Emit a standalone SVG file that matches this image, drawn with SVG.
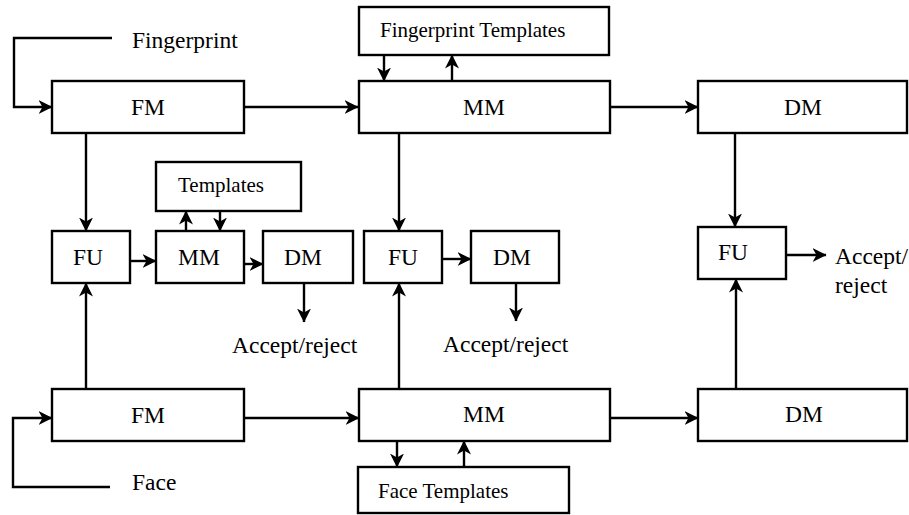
<svg xmlns="http://www.w3.org/2000/svg" width="909" height="515" viewBox="0 0 909 515">
<style>
.box{fill:#fff;stroke:#000;stroke-width:2.4}
.t{font-family:"Liberation Serif","Times New Roman",serif;font-size:23.5px;fill:#000}
.tc{text-anchor:middle}
.s{font-family:"Liberation Serif","Times New Roman",serif;font-size:21px;fill:#000}
.c{fill:none;stroke:#000;stroke-width:2.4}
.a{marker-end:url(#ah)}
</style>
<defs>
<marker id="ah" viewBox="0 0 14 14" refX="13.5" refY="7" markerWidth="14" markerHeight="14" markerUnits="userSpaceOnUse" orient="auto">
<path d="M0,0 L14,7 L0,14 L4,7 Z" fill="#000"/>
</marker>
</defs>
<rect width="909" height="515" fill="#fff"/>
<g id="connectors">
<path class="c a" d="M112,38 H14 V107 H52"/>
<path class="c a" d="M244,107 H358"/>
<path class="c a" d="M384,55 V81"/>
<path class="c a" d="M452,81 V55"/>
<path class="c a" d="M610,107 H698"/>
<path class="c a" d="M86,133 V231"/>
<path class="c a" d="M399,133 V231"/>
<path class="c a" d="M735,133 V227"/>
<path class="c a" d="M130,261 H156"/>
<path class="c a" d="M244,264 H263"/>
<path class="c a" d="M186,231 V211"/>
<path class="c a" d="M220,211 V231"/>
<path class="c a" d="M304,283 V322"/>
<path class="c a" d="M442,259 H471"/>
<path class="c a" d="M516,283 V321"/>
<path class="c a" d="M786,255 H826"/>
<path class="c a" d="M86,389 V283"/>
<path class="c a" d="M399,389 V283"/>
<path class="c a" d="M736,389 V279"/>
<path class="c a" d="M110,487 H13 V418 H52"/>
<path class="c a" d="M244,418 H359"/>
<path class="c a" d="M397,441 V467"/>
<path class="c a" d="M464,467 V441"/>
<path class="c a" d="M610,418 H698"/>
</g>
<g id="fm-top"><rect class="box" x="52" y="81" width="192" height="52"/><text class="t tc" x="148" y="115">FM</text></g>
<g id="fp-templates"><rect class="box" x="359" y="7" width="250" height="48"/><text class="s" x="380" y="37">Fingerprint Templates</text></g>
<g id="mm-top"><rect class="box" x="359" y="81" width="251" height="52"/><text class="t tc" x="484" y="115">MM</text></g>
<g id="dm-top"><rect class="box" x="698" y="81" width="209" height="52"/><text class="t tc" x="803" y="115">DM</text></g>
<g id="fu-left"><rect class="box" x="52" y="231" width="78" height="52"/><text class="t tc" x="88" y="265">FU</text></g>
<g id="templates"><rect class="box" x="156" y="162" width="145" height="49"/><text class="s" x="178" y="192">Templates</text></g>
<g id="mm-mid"><rect class="box" x="156" y="231" width="88" height="52"/><text class="t tc" x="199" y="265">MM</text></g>
<g id="dm-mid"><rect class="box" x="263" y="231" width="90" height="52"/><text class="t tc" x="303" y="265">DM</text></g>
<g id="fu-mid"><rect class="box" x="364" y="231" width="78" height="52"/><text class="t tc" x="403" y="265">FU</text></g>
<g id="dm-mid2"><rect class="box" x="471" y="231" width="88" height="52"/><text class="t tc" x="512" y="265">DM</text></g>
<g id="fu-right"><rect class="box" x="698" y="227" width="88" height="52"/><text class="t tc" x="733" y="260">FU</text></g>
<g id="fm-bot"><rect class="box" x="52" y="389" width="192" height="52"/><text class="t tc" x="148" y="423">FM</text></g>
<g id="mm-bot"><rect class="box" x="359" y="389" width="251" height="52"/><text class="t tc" x="484" y="422">MM</text></g>
<g id="dm-bot"><rect class="box" x="698" y="389" width="209" height="52"/><text class="t tc" x="804" y="422">DM</text></g>
<g id="face-templates"><rect class="box" x="358" y="467" width="211" height="46"/><text class="s" x="378" y="498">Face Templates</text></g>
<g id="labels">
<text class="t" x="132" y="48">Fingerprint</text>
<text class="t" x="132" y="490">Face</text>
<text class="t" x="232" y="353">Accept/reject</text>
<text class="t" x="443" y="352">Accept/reject</text>
<text class="t" x="835" y="264">Accept/</text>
<text class="t" x="835" y="293">reject</text>
</g>
</svg>
